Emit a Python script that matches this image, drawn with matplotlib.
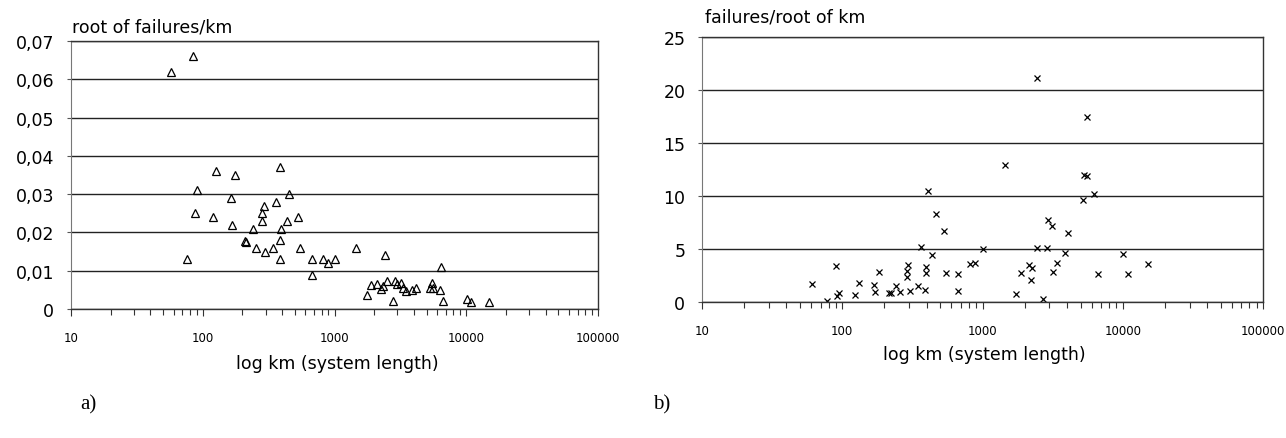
import matplotlib
matplotlib.use('Agg')
import matplotlib.pyplot as plt
from matplotlib.ticker import FixedLocator, LogLocator, NullFormatter

# a) root of failures/km against system length
km_a = [57, 85, 76, 88, 91, 120, 127, 167, 165, 177, 209, 212, 242, 254, 282, 282,
        292, 299, 344, 360, 389, 386, 389, 395, 433, 452, 525, 550, 680, 680, 811,
        900, 1000, 1450, 2400, 6400, 1780, 1900, 2120, 2250, 2330, 2500, 2760, 2880,
        3000, 3200, 3330, 3500, 3900, 4150, 5300, 5500, 5600, 6300, 6700, 10200,
        10800, 15000]
root_fail_a = [0.062, 0.066, 0.013, 0.025, 0.031, 0.024, 0.036, 0.022, 0.029, 0.035,
               0.0177, 0.0175, 0.021, 0.016, 0.023, 0.025, 0.027, 0.015, 0.016, 0.028,
               0.037, 0.013, 0.018, 0.021, 0.023, 0.030, 0.024, 0.016, 0.013, 0.009,
               0.013, 0.012, 0.013, 0.016, 0.014, 0.011, 0.0036, 0.0063, 0.0065, 0.0053,
               0.006, 0.0072, 0.002, 0.0073, 0.0065, 0.0068, 0.0055, 0.0047, 0.005,
               0.0055, 0.0055, 0.0068, 0.0055, 0.005, 0.002, 0.0025, 0.0018, 0.0018]

# b) failures/root of km against system length
km_b = [61, 78, 90, 91, 95, 123, 132, 169, 172, 184, 217, 223, 242, 258, 290, 290,
        292, 304, 347, 364, 388, 395, 395, 408, 436, 465, 531, 550, 669, 669, 813,
        885, 1000, 1450, 1735, 1885, 2140, 2250, 2210, 2450, 2450, 2700, 2880, 2930,
        3130, 3200, 3390, 3870, 4070, 5200, 5300, 5600, 5560, 6240, 6670, 10000,
        10900, 15200]
fail_root_b = [1.7, 0.1, 3.4, 0.55, 0.85, 0.65, 1.8, 1.6, 0.9, 2.8, 0.85, 0.85, 1.5,
               0.9, 2.4, 2.9, 3.5, 1.0, 1.5, 5.2, 1.1, 2.7, 3.3, 10.5, 4.4, 8.3, 6.7,
               2.75, 2.65, 1.0, 3.6, 3.7, 5.0, 12.9, 0.8, 2.7, 3.5, 3.2, 2.1, 21.1, 5.1,
               0.3, 5.1, 7.7, 7.2, 2.85, 3.7, 4.6, 6.5, 9.6, 12.0, 11.9, 17.5, 10.2,
               2.6, 4.5, 2.6, 3.6]

yticks_a = [0, 0.01, 0.02, 0.03, 0.04, 0.05, 0.06, 0.07]
ylabels_a = ['0', '0,01', '0,02', '0,03', '0,04', '0,05', '0,06', '0,07']
yticks_b = [0, 5, 10, 15, 20, 25]
ylabels_b = ['0', '5', '10', '15', '20', '25']
xticks = [10, 100, 1000, 10000, 100000]
xlabels = ['10', '100', '1000', '10000', '100000']


def setup_axes(ax, yticks, ylabels):
    ax.set_xscale('log')
    ax.set_xlim(10, 100000)
    ax.set_ylim(yticks[0], yticks[-1])
    ax.xaxis.set_major_locator(FixedLocator(xticks))
    ax.set_xticklabels(xlabels)
    ax.xaxis.set_minor_locator(LogLocator(base=10, subs=range(2, 10)))
    ax.xaxis.set_minor_formatter(NullFormatter())
    ax.set_yticks(yticks)
    ax.set_yticklabels(ylabels)
    ax.tick_params(axis='x', which='major', direction='out', length=5, width=0.8,
                   pad=11, labelsize=8.5, color='#333333')
    ax.tick_params(axis='x', which='minor', direction='out', length=4.5, width=0.8,
                   color='#333333')
    ax.tick_params(axis='y', direction='out', length=3, width=0.8, pad=9,
                   labelsize=12.5, color='#555555')
    ax.grid(axis='y', color='#222222', linewidth=1.0)
    ax.set_axisbelow(True)
    for side in ['top', 'right', 'bottom']:
        ax.spines[side].set_color('#333333')
        ax.spines[side].set_linewidth(1.0)
    ax.spines['left'].set_color('#777777')
    ax.spines['left'].set_linewidth(0.8)


fig = plt.figure(figsize=(12.86, 4.39), dpi=100)
W, H = 1286, 439

ax1 = fig.add_axes([71 / W, 1 - 310 / H, 527 / W, 268 / H])
ax1.plot(km_a, root_fail_a, linestyle='none', marker='^', markersize=6,
         markerfacecolor='none', markeredgecolor='black', markeredgewidth=0.9)
setup_axes(ax1, yticks_a, ylabels_a)

ax2 = fig.add_axes([702 / W, 1 - 303 / H, 561 / W, 265 / H])
ax2.plot(km_b, fail_root_b, linestyle='none', marker='x', markersize=5,
         color='black', markeredgewidth=0.9)
setup_axes(ax2, yticks_b, ylabels_b)

fig.text(72 / W, 1 - 27 / H, 'root of failures/km', fontsize=12.5, va='center', ha='left')
fig.text(705 / W, 1 - 18 / H, 'failures/root of km', fontsize=12.5, va='center', ha='left')
fig.text(337 / W, 1 - 364 / H, 'log km (system length)', fontsize=12.5, va='center', ha='center')
fig.text(984 / W, 1 - 355 / H, 'log km (system length)', fontsize=12.5, va='center', ha='center')
fig.text(88 / W, 1 - 405 / H, 'a)', fontsize=15, family='Liberation Serif', va='center', ha='center')
fig.text(662 / W, 1 - 405 / H, 'b)', fontsize=15, family='Liberation Serif', va='center', ha='center')

fig.savefig('out.png', dpi=100)
